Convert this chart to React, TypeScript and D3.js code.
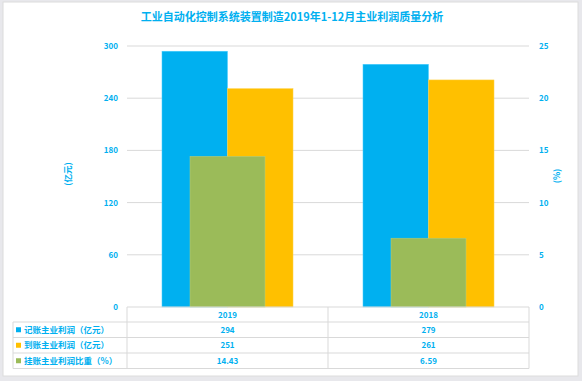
import React from "react";
import * as d3 from "d3";

const categories = ["2019", "2018"];
const recorded = [294, 279];
const received = [251, 261];
const ratio = [14.43, 6.59];
const leftTicks = [0, 60, 120, 180, 240, 300];
const rightTicks = [0, 5, 10, 15, 20, 25];
const seriesNames = ["记账主业利润（亿元）", "到账主业利润（亿元）", "挂账主业利润比重（%）"];
const seriesColors = ["#00B0F0", "#FFC000", "#9BBB59"];
const title = "工业自动化控制系统装置制造2019年1-12月主业利润质量分析";

const W = 582, H = 381;
const plotL = 127, plotR = 529, plotT = 46, plotB = 307;
const tableLeft = 13;
const rowYs = [307, 322, 337.5, 353, 368.5];
const txt = "#00B0F0";
const grid = "#d9d9d9";
const font = "'Noto Sans CJK SC', 'Noto Sans', sans-serif";

export default function App() {
  const x0 = d3.scaleBand<string>().domain(categories).range([plotL, plotR]).padding(0);
  const bw = x0.bandwidth();
  const x1 = d3.scaleBand<string>().domain(["a", "b"]).range([0, bw]).paddingInner(0).paddingOuter(0.534);
  const yL = d3.scaleLinear().domain([0, 300]).range([plotB, plotT]);
  const yR = d3.scaleLinear().domain([0, 25]).range([plotB, plotT]);
  const greenW = bw * 0.373;

  const tableRows = [recorded, received, ratio.map((v) => v.toFixed(2))];

  return (
    <svg width={W} height={H} style={{ position: "absolute", left: 0, top: 0 }} fontFamily={font}>
      <rect x={0} y={0} width={W} height={H} fill="#e8e8ec" />
      <rect x={3} y={2} width={575} height={374} fill="#ffffff" stroke="#dcdcdc" />
      <text x={292} y={21} textAnchor="middle" fill={txt} fontSize={11} fontWeight="bold">{title}</text>

      {leftTicks.filter((t) => t > 0).map((t) => (
        <line key={"g" + t} x1={plotL} x2={plotR} y1={yL(t)} y2={yL(t)} stroke={grid} strokeWidth={1} />
      ))}
      {leftTicks.map((t) => (
        <text key={"l" + t} x={118} y={yL(t) + 3} textAnchor="end" fill={txt} fontSize={8} fontWeight="bold">{t}</text>
      ))}
      {rightTicks.map((t) => (
        <text key={"r" + t} x={539} y={yR(t) + 3} textAnchor="start" fill={txt} fontSize={8} fontWeight="bold">{t}</text>
      ))}
      <text transform={`translate(71,174) rotate(-90)`} textAnchor="middle" fill={txt} fontSize={8.5} fontWeight="bold">(亿元)</text>
      <text transform={`translate(560,176) rotate(-90)`} textAnchor="middle" fill={txt} fontSize={8.5} fontWeight="bold">(%)</text>

      {categories.map((c, i) => {
        const bx = x0(c)!;
        return (
          <g key={c}>
            <rect x={bx + x1("a")!} y={yL(recorded[i])} width={x1.bandwidth()} height={plotB - yL(recorded[i])} fill={seriesColors[0]} stroke="#4fd0ff" strokeWidth={0.5} />
            <rect x={bx + x1("b")!} y={yL(received[i])} width={x1.bandwidth()} height={plotB - yL(received[i])} fill={seriesColors[1]} stroke="#ffd24d" strokeWidth={0.5} />
            <rect x={bx + bw / 2 - greenW / 2} y={yR(ratio[i])} width={greenW} height={plotB - yR(ratio[i])} fill={seriesColors[2]} stroke="#b5cf80" strokeWidth={0.5} />
          </g>
        );
      })}

      {/* table */}
      <line x1={plotL} x2={plotR} y1={rowYs[0]} y2={rowYs[0]} stroke={grid} />
      {rowYs.slice(1).map((y, i) => (
        <line key={"row" + i} x1={tableLeft} x2={plotR} y1={y} y2={y} stroke={grid} />
      ))}
      <line x1={tableLeft} x2={tableLeft} y1={rowYs[1]} y2={rowYs[4]} stroke={grid} />
      {[plotL, plotL + bw, plotR].map((xv, i) => (
        <line key={"v" + i} x1={xv} x2={xv} y1={rowYs[0]} y2={rowYs[4]} stroke={grid} />
      ))}
      {categories.map((c) => (
        <text key={"h" + c} x={x0(c)! + bw / 2} y={(rowYs[0] + rowYs[1]) / 2 + 3} textAnchor="middle" fill={txt} fontSize={8} fontWeight="bold">{c}</text>
      ))}
      {seriesNames.map((s, r) => {
        const yc = (rowYs[r + 1] + rowYs[r + 2]) / 2;
        return (
          <g key={s}>
            <rect x={16} y={yc - 2.5} width={5} height={5} fill={seriesColors[r]} />
            <text x={24} y={yc + 3} fill={txt} fontSize={8.5} fontWeight="bold">{s}</text>
            {categories.map((c, i) => (
              <text key={c} x={x0(c)! + bw / 2} y={yc + 3} textAnchor="middle" fill={txt} fontSize={8} fontWeight="bold">{tableRows[r][i]}</text>
            ))}
          </g>
        );
      })}
    </svg>
  );
}
